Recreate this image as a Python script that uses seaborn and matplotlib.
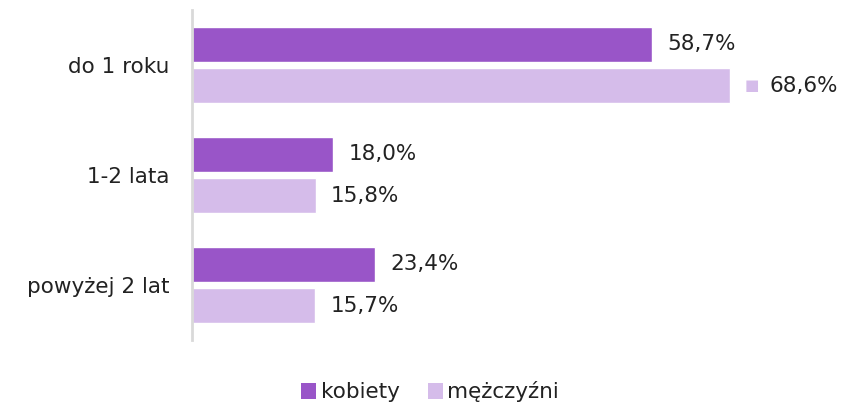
import matplotlib
matplotlib.use("Agg")
import matplotlib.pyplot as plt
import seaborn as sns
import pandas as pd
from matplotlib.patches import Patch

categories = ["do 1 roku", "1-2 lata", "powyżej 2 lat"]
series_names = ["kobiety", "mężczyźni"]
kobiety = [58.7, 18.0, 23.4]
mezczyzni = [68.6, 15.8, 15.7]
colors = ["#9955C8", "#D5BCEA"]

df = pd.DataFrame({
    "cat": categories * 2,
    "val": kobiety + mezczyzni,
    "series": [series_names[0]] * 3 + [series_names[1]] * 3,
})

sns.set_theme(style="white")
plt.rcParams["font.family"] = ["DejaVu Sans"]
FS = 15.5

fig = plt.figure(figsize=(8.45, 4.05), dpi=100)
ax = fig.add_axes([192 / 845, 1 - 340 / 405, 1 - 192 / 845 - 0.005, 330 / 405])

sns.barplot(data=df, y="cat", x="val", hue="series", orient="h",
            palette=colors, width=0.75, gap=0.15, ax=ax, legend=False,
            saturation=1)

ax.set_xlim(0, 82.8)
ax.set_ylim(2.5, -0.5)
ax.set_xlabel("")
ax.set_ylabel("")
ax.set_xticks([])
ax.tick_params(axis="y", length=0, pad=16, labelsize=FS, labelcolor="#222222")
for s in ["top", "right", "bottom"]:
    ax.spines[s].set_visible(False)
ax.spines["left"].set_color("#d9d9d9")
ax.spines["left"].set_linewidth(2)

for ci, cont in enumerate(ax.containers):
    for bi, bar in enumerate(cont):
        v = bar.get_width()
        y = bar.get_y() + bar.get_height() / 2
        txt = f"{v:.1f}".replace(".", ",") + "%"
        if ci == 1 and bi == 0:
            ax.annotate("■", (v, y), xytext=(11, 0), textcoords="offset points",
                        va="center", ha="left", fontsize=11, color=colors[1])
            ax.annotate(txt, (v, y), xytext=(29, 0), textcoords="offset points",
                        va="center", ha="left", fontsize=FS, color="#222222")
        else:
            ax.annotate(txt, (v, y), xytext=(11, 0), textcoords="offset points",
                        va="center", ha="left", fontsize=FS, color="#222222")

handles = [Patch(facecolor=c, edgecolor="none") for c in colors]
fig.legend(handles, series_names, loc="center", bbox_to_anchor=(430 / 845, 1 - 392 / 405),
           ncol=2, frameon=False, fontsize=FS, handlelength=0.7, handleheight=0.7,
           handletextpad=0.2, columnspacing=1.3, labelcolor="#222222")

fig.savefig("out.png", dpi=100)
